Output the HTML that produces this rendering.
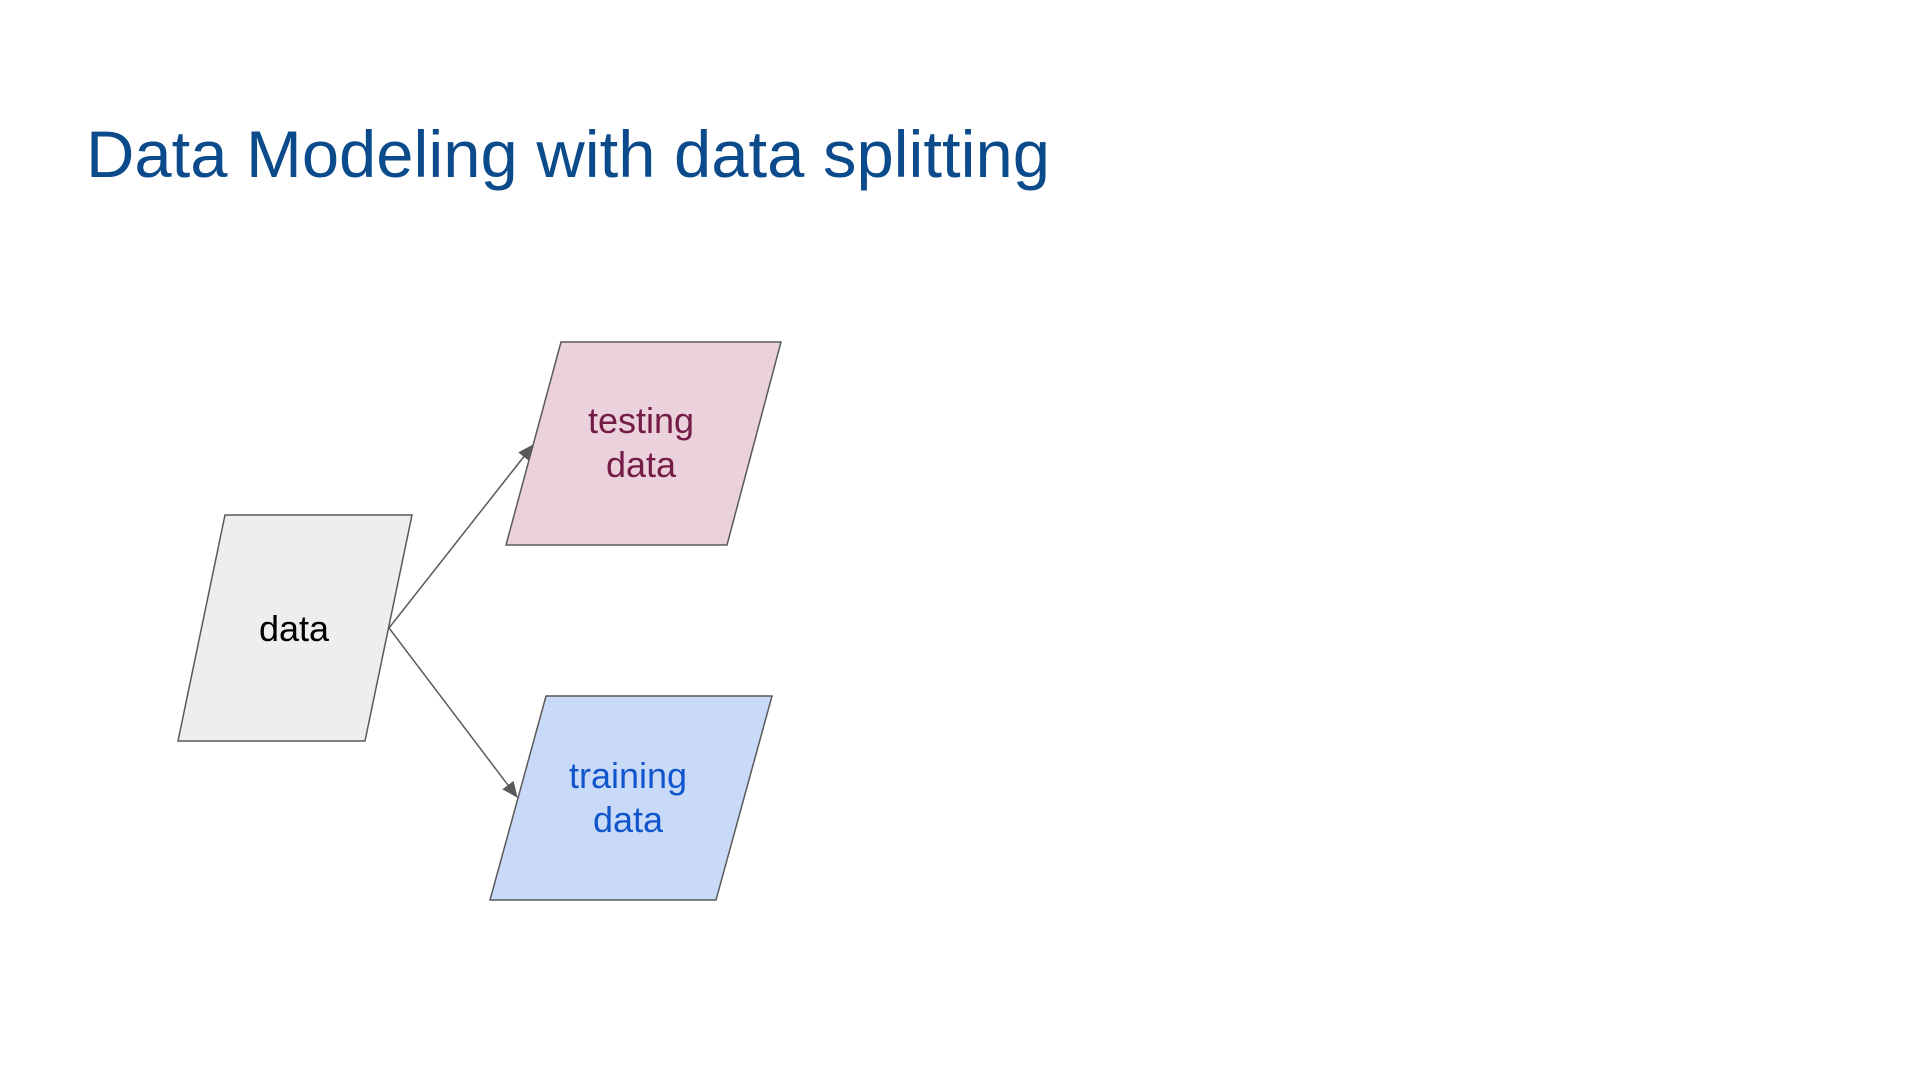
<!DOCTYPE html>
<html><head><meta charset="utf-8"><style>
html,body{margin:0;padding:0;background:#fff;width:1918px;height:1080px;overflow:hidden}
</style></head><body>
<svg width="1918" height="1080" viewBox="0 0 1918 1080" xmlns="http://www.w3.org/2000/svg" font-family="Liberation Sans, Arial, sans-serif">
<defs><marker id="ah" markerWidth="16" markerHeight="14" refX="15" refY="7" orient="auto" markerUnits="userSpaceOnUse"><path d="M0,0 L16,7 L0,14 z" fill="#595959"/></marker></defs>
<text x="86" y="177" font-size="66" fill="#0b4a8b" textLength="964" lengthAdjust="spacingAndGlyphs">Data Modeling with data splitting</text>
<polygon points="225,515 412,515 365,741 178,741" fill="#eeeeee" stroke="#595959" stroke-width="1.5"/>
<polygon points="561,342 781,342 727,545 506,545" fill="#ead1dc" stroke="#595959" stroke-width="1.5"/>
<polygon points="546,696 772,696 716,900 490,900" fill="#c9daf8" stroke="#595959" stroke-width="1.5"/>
<line x1="389" y1="628" x2="533" y2="445" stroke="#595959" stroke-width="1.5" marker-end="url(#ah)"/>
<line x1="389" y1="628" x2="517" y2="797" stroke="#595959" stroke-width="1.5" marker-end="url(#ah)"/>
<text x="294" y="641" font-size="36" fill="#000" text-anchor="middle">data</text>
<text x="641" y="433" font-size="36" fill="#741b47" text-anchor="middle">testing</text>
<text x="641" y="477" font-size="36" fill="#741b47" text-anchor="middle">data</text>
<text x="628" y="788" font-size="36" fill="#1155cc" text-anchor="middle">training</text>
<text x="628" y="832" font-size="36" fill="#1155cc" text-anchor="middle">data</text>
</svg>
</body></html>
